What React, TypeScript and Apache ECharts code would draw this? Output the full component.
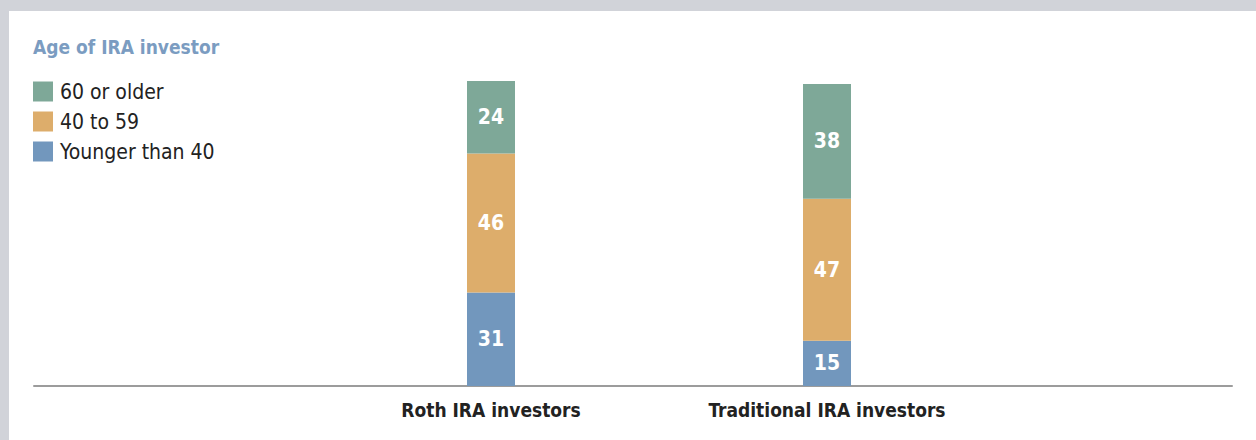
import React, { useEffect, useRef } from "react";
import * as echarts from "echarts";

const categories = ["Roth IRA investors", "Traditional IRA investors"];
const seriesNames = ["Younger than 40", "40 to 59", "60 or older"];
const youngerThan40 = [31, 15];
const age40to59 = [46, 47];
const age60OrOlder = [24, 38];
const legendOrder = ["60 or older", "40 to 59", "Younger than 40"];
const colors = ["#7297bd", "#ddad6b", "#7ea898"];

const FONT = "'DejaVu Sans Condensed', 'Roboto', sans-serif";

export default function App() {
  const ref = useRef<HTMLDivElement>(null);
  useEffect(() => {
    document.body.style.margin = "0";
    const chart = echarts.init(ref.current!, null, { renderer: "svg" });
    const values = [youngerThan40, age40to59, age60OrOlder];
    const label = {
      show: true,
      position: "inside",
      color: "#ffffff",
      fontSize: 21,
      fontWeight: "bold",
      fontFamily: FONT,
    };
    chart.setOption({
      animation: false,
      title: {
        text: "Age of IRA investor",
        left: 33,
        top: 37,
        padding: 0,
        textStyle: { color: "#7b9cc1", fontSize: 19, fontWeight: "bold", fontFamily: FONT },
      },
      legend: {
        data: legendOrder,
        orient: "vertical",
        left: 33,
        top: 81,
        padding: 0,
        itemWidth: 20,
        itemHeight: 20,
        itemGap: 9,
        icon: "rect",
        selectedMode: false,
        textStyle: { color: "#222222", fontSize: 21, lineHeight: 20, fontFamily: FONT, padding: [0, 0, 0, 2] },
      },
      grid: [
        { left: 323, right: 261, top: 81, bottom: 54 },
        { left: 34, right: 24, top: 81, bottom: 54 },
      ],
      xAxis: [
        {
          type: "category",
          gridIndex: 0,
          data: categories,
          axisLine: { show: false },
          axisTick: { show: false },
          axisLabel: { interval: 0, color: "#222222", fontSize: 19, fontWeight: "bold", fontFamily: FONT, margin: 14 },
        },
        {
          type: "value",
          gridIndex: 1,
          min: 0,
          max: 1,
          axisLine: { show: true, onZero: false, lineStyle: { color: "#9c9c9c", width: 2 } },
          axisTick: { show: false },
          axisLabel: { show: false },
          splitLine: { show: false },
        },
      ],
      yAxis: [
        { type: "value", gridIndex: 0, min: 0, max: 101, show: false },
        { type: "value", gridIndex: 1, min: 0, max: 1, show: false },
      ],
      series: seriesNames.map((name, i) => ({
        name,
        type: "bar",
        stack: "total",
        xAxisIndex: 0,
        yAxisIndex: 0,
        barWidth: 48,
        data: values[i],
        itemStyle: { color: colors[i] },
        label,
      })),
    });
    return () => chart.dispose();
  }, []);
  return (
    <div style={{ position: "fixed", left: 0, top: 0, width: 1256, height: 440, background: "#d1d3d9" }}>
      <div style={{ position: "absolute", left: 9, top: 11, right: 0, bottom: 0, background: "#ffffff" }} />
      <div ref={ref} style={{ position: "absolute", left: 0, top: 0, width: 1256, height: 440 }} />
    </div>
  );
}
